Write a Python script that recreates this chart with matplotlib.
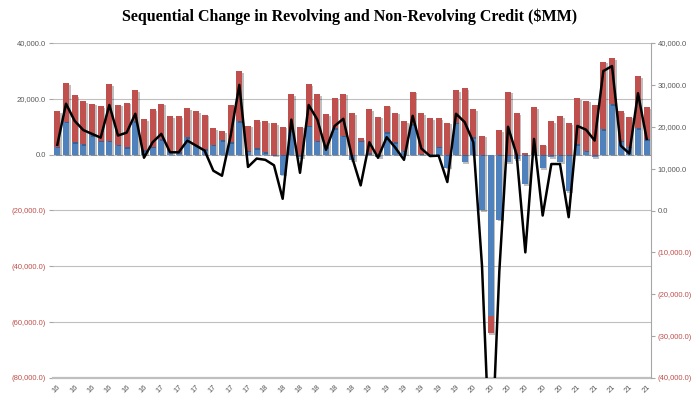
import numpy as np
import pandas as pd
import matplotlib
matplotlib.use("Agg")
import matplotlib.pyplot as plt
import matplotlib.patheffects as pe

# --- DATA ($MM, monthly change, Feb-2016 .. Oct-2021) ---
months = pd.date_range("2016-02-01", periods=69, freq="MS").strftime("%y").tolist()

revolving = [2900, 11800, 4400, 3700, 7000, 5000, 5000, 3600, 2600, 11900,
             1500, 2900, 5500, 1400, 1000, 6200, 3200, 2000, 3600, 5200,
             4400, 12100, 1400, 2400, 800, -400, -7200, 8600, -1000, 10400,
             5000, 2600, 9500, 6800, -2000, 5000, 500, -1000, 8000, 4400,
             1400, 11000, 200, 100, 2900, -4700, 11500, -2700, 6200, -20000,
             -57700, -23300, -2600, -1500, -10500, 300, -4800, -1000, -2700, -13000,
             3800, 1400, -1000, 9200, 18100, 5000, 2900, 9500, 5600]

non_revolving = [12800, 13700, 17000, 15500, 11300, 12400, 20200, 14300, 16000, 11200,
                 11100, 13400, 12800, 12500, 12900, 10500, 12300, 12300, 5900, 3100,
                 13500, 17900, 9000, 10000, 11300, 11200, 10000, 13100, 10000, 14800,
                 16700, 11900, 10700, 15100, 14800, 1000, 15800, 13600, 9500, 10600,
                 10700, 11600, 14600, 12900, 10200, 11500, 11600, 23800, 10100, 6800,
                 -6300, 8800, 22600, 14800, 500, 16800, 3600, 12100, 13800, 11400,
                 16400, 17900, 17700, 24100, 16400, 10500, 10700, 18500, 11500]

left_ticks = [40000, 20000, 0, -20000, -40000, -60000, -80000]
right_ticks = [40000, 30000, 20000, 10000, 0, -10000, -20000, -30000, -40000]

BLUE = "#4f81bd"
RED = "#c0504d"
GREY = "#595959"


def fmt(v):
    # Excel style: negatives in brackets
    return "({:,.1f})".format(-v) if v < 0 else "{:,.1f}".format(v)


rev = np.array(revolving)
nonrev = np.array(non_revolving)
total = rev + nonrev
x = np.arange(len(months))
# red sits on blue when both have the same sign, otherwise starts at zero
red_bottom = np.where(np.sign(rev) == np.sign(nonrev), rev, 0)

fig = plt.figure(figsize=(7, 3.94), dpi=100)
ax = fig.add_axes([53 / 700, 16 / 394, 598 / 700, 335 / 394])

shadow = [pe.SimplePatchShadow(offset=(1.2, -1.2), shadow_rgbFace="black", alpha=0.25), pe.Normal()]
b1 = ax.bar(x, rev, width=0.68, color=BLUE, zorder=3)
b2 = ax.bar(x, nonrev, bottom=red_bottom, width=0.68, color=RED, zorder=3)
for p in list(b1) + list(b2):
    p.set_path_effects(shadow)

ax.set_xlim(-0.5, len(x) - 0.5)
ax.set_ylim(-80000, 40000)
ax.set_yticks(left_ticks)
ax.set_yticklabels([fmt(v) for v in left_ticks])
for lab, v in zip(ax.get_yticklabels(), left_ticks):
    lab.set_color(RED if v < 0 else GREY)
    lab.set_family("Liberation Sans")
ax.grid(axis="y", color="#bfbfbf", linewidth=0.8, zorder=0)
ax.set_axisbelow(True)

ax.set_xticks(x[::2])
ax.set_xticklabels(months[::2], rotation=45, ha="right", rotation_mode="anchor",
                   fontsize=5.5, color=GREY, family="Liberation Sans")
ax.tick_params(axis="x", length=0, pad=4)
ax.tick_params(axis="y", length=3, color="#a6a6a6", labelsize=5.5, pad=2)

for s in ["top", "left", "right"]:
    ax.spines[s].set_visible(False)
ax.spines["bottom"].set_color("#bfbfbf")
ax.spines["bottom"].set_linewidth(1.6)

# total on the secondary axis
ax2 = ax.twinx()
ax2.plot(x, total, color="black", linewidth=1.8, zorder=5)
ax2.set_ylim(-40000, 40000)
ax2.set_yticks(right_ticks)
ax2.set_yticklabels([fmt(v) for v in right_ticks])
for lab, v in zip(ax2.get_yticklabels(), right_ticks):
    lab.set_color(RED if v < 0 else GREY)
    lab.set_family("Liberation Sans")
ax2.tick_params(axis="y", length=3, color="#a6a6a6", labelsize=5.5, pad=2)
for s in ["top", "left", "bottom"]:
    ax2.spines[s].set_visible(False)
ax2.spines["right"].set_color("#a6a6a6")

fig.text(0.5, 1 - 17 / 394, "Sequential Change in Revolving and Non-Revolving Credit ($MM)",
         ha="center", va="center", family="Liberation Serif", fontweight="bold", fontsize=11.5)

fig.savefig("out.png", dpi=100)
